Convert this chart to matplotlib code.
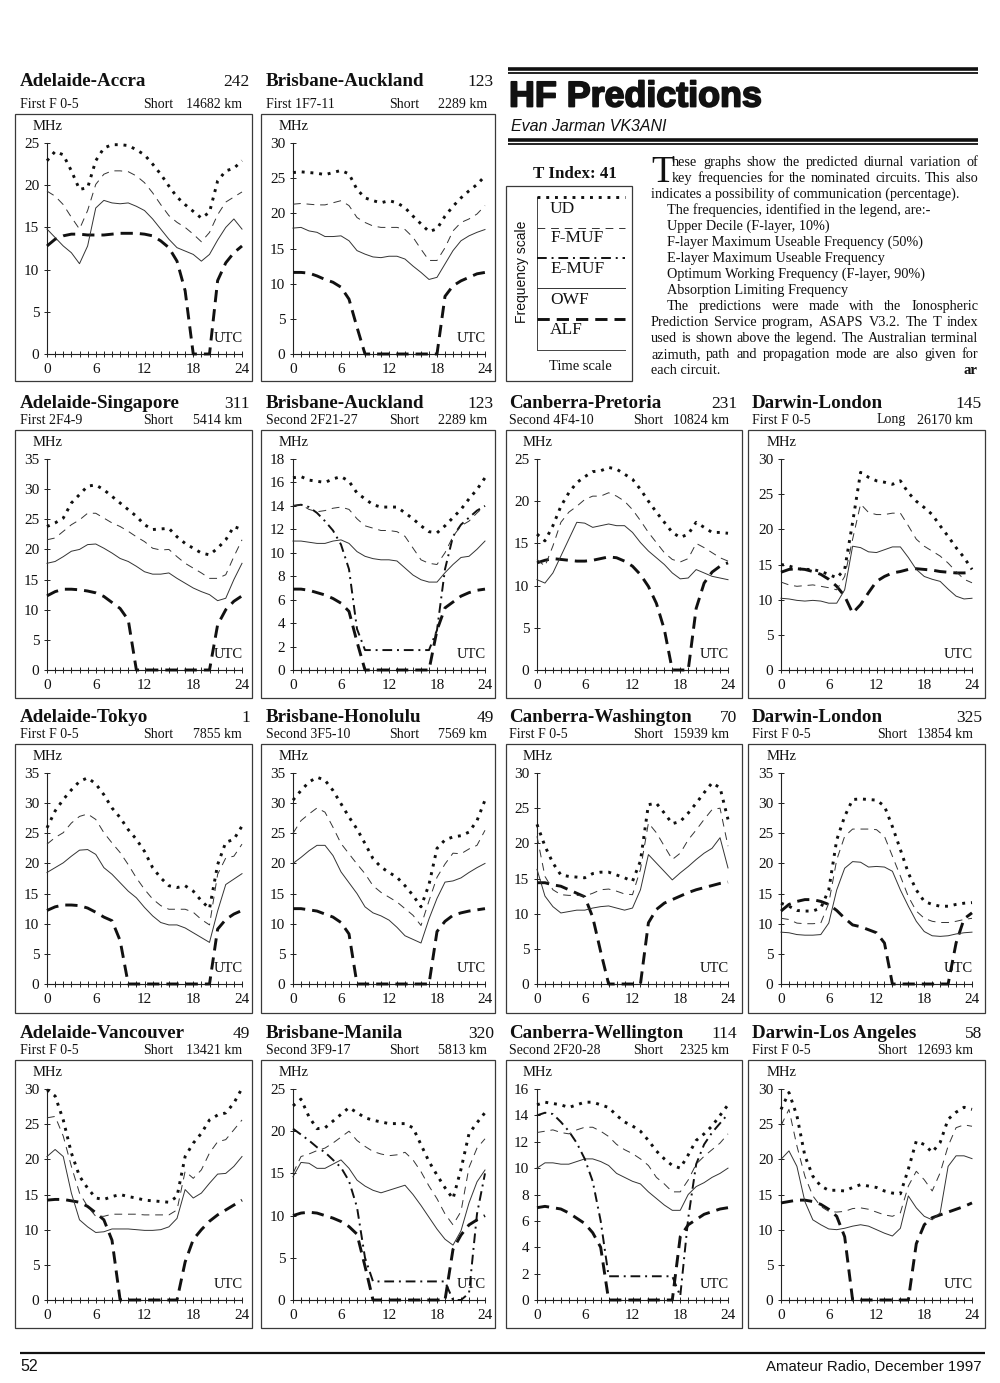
import matplotlib
matplotlib.use("Agg")
import matplotlib.pyplot as plt
import matplotlib.patheffects as pe
from matplotlib.patches import Rectangle
import numpy as np

# ---------------------------------------------------------------- data
HOURS = list(range(25))
X_TICKS = [0, 6, 12, 18, 24]

ACCRA_UD   = [22.9, 24.0, 23.6, 21.7, 19.5, 19.7, 22.9, 24.4, 24.8, 24.8, 24.7, 24.2, 23.6, 22.5, 21.3, 19.9, 18.6, 17.7, 16.9, 16.1, 16.8, 20.5, 21.7, 22.0, 22.9]
ACCRA_FMUF = [19.3, 18.7, 17.7, 16.2, 14.8, 17.0, 20.1, 21.3, 21.7, 21.7, 21.6, 21.1, 20.3, 19.1, 17.7, 16.4, 15.6, 15.0, 14.2, 13.3, 14.4, 16.5, 18.0, 18.6, 19.2]
ACCRA_OWF  = [14.8, 13.8, 12.8, 12.0, 10.7, 12.8, 17.3, 18.2, 17.9, 17.8, 17.9, 17.5, 17.0, 16.0, 14.8, 13.6, 12.6, 12.2, 11.8, 11.0, 11.8, 13.5, 15.0, 16.0, 14.8]
ACCRA_ALF  = [12.8, 13.6, 14.0, 14.2, 14.2, 14.1, 14.1, 14.1, 14.2, 14.3, 14.3, 14.3, 14.2, 14.0, 13.4, 12.6, 11.0, 7.5, 0, 0, 0, 8.7, 10.8, 12.0, 12.8]

AUCK1_UD   = [25.8, 25.9, 25.8, 25.7, 25.5, 25.8, 26.1, 25.6, 23.4, 22.2, 21.8, 21.5, 21.8, 21.5, 20.8, 19.6, 18.5, 17.4, 17.8, 19.6, 21.0, 22.2, 23.2, 24.1, 25.3]
AUCK1_FMUF = [21.3, 21.4, 21.3, 21.2, 21.2, 21.5, 21.8, 21.1, 19.4, 18.7, 18.2, 18.0, 18.0, 18.0, 17.7, 16.6, 14.9, 13.3, 13.3, 15.1, 17.5, 18.7, 19.2, 19.9, 21.1]
AUCK1_OWF  = [17.9, 18.0, 17.5, 17.3, 16.7, 16.7, 16.8, 16.1, 14.7, 14.2, 13.8, 13.7, 13.9, 13.9, 13.5, 12.5, 11.6, 10.6, 10.9, 12.8, 14.7, 16.1, 16.8, 17.3, 17.7]
AUCK1_ALF  = [11.6, 11.6, 11.5, 11.1, 10.6, 10.2, 9.5, 7.8, 3.8, 0, 0, 0, 0, 0, 0, 0, 0, 0, 0, 8.2, 9.7, 10.4, 10.9, 11.4, 11.6]

SING_UD   = [23.8, 24.4, 25.2, 27.7, 29.1, 30.5, 30.7, 29.9, 28.8, 27.7, 26.6, 25.5, 24.1, 23.3, 23.4, 23.5, 22.1, 21.0, 20.2, 19.4, 19.1, 20.2, 21.6, 23.8, 23.3]
SING_FMUF = [21.6, 21.9, 23.0, 24.1, 24.9, 26.0, 26.0, 25.2, 24.4, 23.8, 23.0, 22.1, 21.3, 20.2, 19.9, 20.0, 18.8, 17.7, 16.9, 16.1, 15.2, 15.2, 15.8, 18.8, 21.6]
SING_OWF  = [17.7, 18.0, 18.8, 19.7, 20.0, 20.8, 20.9, 20.2, 19.4, 18.5, 18.0, 17.2, 16.3, 15.9, 15.9, 16.1, 15.2, 14.4, 13.6, 13.0, 12.5, 11.5, 11.9, 15.0, 17.7]
SING_ALF  = [12.3, 13.0, 13.4, 13.4, 13.3, 13.1, 12.8, 12.2, 11.2, 10.2, 8.3, 0, 0, 0, 0, 0, 0, 0, 0, 0, 0, 7.5, 10.0, 11.4, 12.3]

AUCK2_UD   = [16.4, 16.5, 16.2, 16.1, 16.0, 16.3, 16.5, 16.1, 15.1, 14.6, 14.1, 13.9, 13.9, 13.9, 13.4, 12.9, 12.3, 11.8, 11.7, 12.3, 13.0, 13.7, 14.6, 15.4, 16.4]
AUCK2_FMUF = [14.0, 14.1, 13.7, 13.5, 13.6, 13.8, 13.9, 13.7, 12.9, 12.3, 12.1, 11.9, 11.9, 11.8, 11.4, 10.4, 9.4, 9.1, 9.0, 10.0, 11.4, 12.3, 12.7, 13.4, 14.0]
AUCK2_EMUF = [14.0, 14.1, 13.9, 13.4, 12.7, 11.9, 10.7, 8.6, 3.5, 1.7, 1.7, 1.7, 1.7, 1.7, 1.7, 1.7, 1.7, 1.7, 3.4, 8.6, 11.4, 12.4, 13.0, 13.6, 14.0]
AUCK2_OWF  = [11.0, 11.0, 10.9, 10.8, 10.8, 11.0, 11.1, 10.8, 10.1, 9.7, 9.5, 9.4, 9.4, 9.3, 8.7, 8.1, 7.7, 7.5, 7.5, 8.3, 9.0, 9.6, 9.7, 10.3, 11.0]
AUCK2_ALF  = [6.9, 6.9, 6.8, 6.6, 6.4, 6.1, 5.7, 5.0, 2.4, 0, 0, 0, 0, 0, 0, 0, 0, 0, 3.4, 5.3, 5.8, 6.3, 6.6, 6.8, 6.9]

PRET_UD   = [16.1, 15.3, 17.1, 19.4, 21.0, 22.2, 22.9, 23.5, 23.6, 24.0, 23.8, 23.2, 22.6, 21.4, 20.0, 18.7, 17.5, 16.3, 15.7, 16.1, 17.5, 16.9, 16.3, 16.3, 16.2]
PRET_FMUF = [13.1, 12.3, 14.7, 17.5, 18.7, 19.4, 20.2, 20.6, 20.6, 21.0, 20.6, 20.0, 19.0, 17.7, 16.3, 15.1, 13.9, 13.1, 12.8, 13.2, 15.0, 14.5, 13.9, 13.3, 12.9]
PRET_OWF  = [10.7, 10.3, 11.5, 13.5, 15.5, 17.5, 17.4, 16.9, 17.1, 17.3, 17.1, 17.1, 16.3, 15.1, 14.1, 13.3, 12.5, 11.5, 10.8, 10.9, 11.9, 11.5, 11.1, 10.9, 10.7]
PRET_ALF  = [12.7, 13.0, 13.2, 13.1, 13.0, 12.9, 12.9, 13.0, 13.2, 13.4, 13.3, 12.9, 12.3, 11.3, 9.9, 7.9, 4.8, 0, 0, 0, 7.3, 10.3, 11.6, 12.3, 12.7]

LONL_UD   = [15.0, 14.8, 14.4, 14.3, 14.3, 14.0, 13.6, 13.1, 14.3, 21.0, 28.1, 27.4, 26.9, 26.7, 26.4, 26.9, 25.2, 24.0, 23.1, 22.1, 20.5, 19.0, 17.4, 16.0, 14.3]
LONL_FMUF = [12.5, 12.1, 11.9, 12.0, 12.1, 11.9, 11.7, 11.4, 13.3, 18.6, 23.6, 22.4, 22.1, 22.1, 22.3, 22.3, 20.5, 18.6, 17.6, 16.9, 16.2, 15.2, 14.0, 12.9, 12.4]
LONL_OWF  = [10.2, 10.1, 9.9, 9.8, 9.9, 9.8, 9.5, 9.5, 11.4, 17.6, 17.4, 16.8, 16.7, 17.1, 17.5, 17.5, 16.0, 14.3, 13.3, 12.9, 12.6, 11.5, 10.5, 10.1, 10.2]
LONL_ALF  = [13.9, 14.3, 14.4, 14.3, 14.0, 13.6, 12.9, 11.9, 10.5, 8.1, 9.3, 11.0, 12.6, 13.3, 13.8, 14.0, 14.3, 14.4, 14.3, 14.2, 14.0, 13.9, 13.8, 13.8, 13.9]

TOKYO_UD   = [25.9, 28.7, 30.6, 32.2, 33.6, 34.2, 33.2, 31.4, 29.2, 27.6, 25.6, 24.0, 22.0, 19.3, 17.6, 16.3, 16.0, 16.3, 15.4, 13.8, 12.5, 19.8, 23.5, 24.0, 26.2]
TOKYO_FMUF = [23.2, 24.3, 25.1, 26.7, 27.8, 28.2, 27.3, 25.1, 23.4, 21.8, 19.8, 17.6, 15.7, 14.1, 13.0, 12.4, 12.4, 12.4, 11.9, 10.7, 9.8, 18.2, 20.9, 21.2, 23.2]
TOKYO_OWF  = [18.5, 19.3, 20.1, 21.2, 22.2, 22.3, 21.5, 19.3, 18.2, 16.8, 15.4, 14.3, 12.7, 11.3, 10.2, 9.8, 9.8, 9.3, 8.5, 7.7, 6.9, 12.1, 16.5, 17.4, 18.3]
TOKYO_ALF  = [12.2, 12.8, 13.1, 13.1, 13.0, 12.6, 11.9, 11.1, 10.5, 7.2, 0, 0, 0, 0, 0, 0, 0, 0, 0, 0, 0, 9.1, 10.7, 11.6, 12.2]

HONO_UD   = [30.5, 32.1, 33.5, 34.3, 33.8, 32.1, 29.9, 27.7, 25.7, 23.3, 20.8, 19.4, 18.5, 17.7, 16.3, 14.7, 12.8, 16.5, 22.5, 23.9, 24.4, 24.6, 25.2, 27.1, 30.5]
HONO_FMUF = [25.0, 27.1, 28.2, 29.2, 28.5, 26.0, 23.3, 21.6, 19.9, 18.3, 16.3, 15.2, 14.4, 13.6, 12.5, 11.4, 9.7, 13.8, 17.7, 19.9, 21.7, 21.6, 22.4, 23.0, 25.5]
HONO_OWF  = [20.0, 21.0, 22.1, 23.0, 23.0, 21.3, 18.6, 16.8, 15.0, 12.8, 11.8, 11.3, 10.6, 9.4, 8.0, 7.4, 6.8, 10.8, 14.2, 16.9, 17.1, 17.6, 18.5, 19.3, 20.0]
HONO_ALF  = [12.5, 12.5, 12.3, 12.1, 11.6, 11.1, 10.2, 8.3, 0, 0, 0, 0, 0, 0, 0, 0, 0, 0, 8.7, 10.4, 11.4, 11.8, 12.1, 12.3, 12.5]

WASH_UD   = [22.7, 19.6, 17.2, 15.5, 15.3, 15.2, 15.1, 15.7, 15.9, 15.9, 15.5, 15.1, 14.6, 17.5, 25.5, 25.7, 24.3, 22.8, 23.1, 24.3, 25.7, 27.2, 28.6, 27.9, 23.4]
WASH_FMUF = [21.0, 15.3, 13.4, 12.7, 12.6, 12.6, 12.5, 12.9, 13.4, 13.5, 13.2, 12.8, 12.7, 16.3, 22.9, 21.5, 19.6, 17.7, 18.6, 20.5, 21.9, 23.4, 24.8, 25.0, 19.6]
WASH_OWF  = [16.3, 12.5, 11.0, 10.1, 10.3, 10.5, 10.5, 10.8, 11.0, 11.1, 10.8, 10.5, 10.8, 13.4, 18.4, 17.2, 16.0, 14.8, 15.8, 16.7, 17.7, 18.6, 19.3, 20.8, 16.5]
WASH_ALF  = [14.4, 14.4, 14.1, 13.9, 13.4, 12.9, 12.4, 9.5, 4.6, 0, 0, 0, 0, 0, 8.7, 10.6, 11.5, 12.0, 12.5, 13.0, 13.4, 13.7, 14.0, 14.3, 14.5]

LONS_UD   = [13.4, 12.9, 12.2, 12.1, 12.1, 12.6, 15.6, 23.9, 27.8, 30.6, 30.7, 30.6, 30.5, 29.5, 26.1, 22.3, 18.4, 15.6, 13.7, 13.2, 12.9, 12.9, 13.2, 13.4, 13.5]
LONS_FMUF = [10.9, 10.7, 10.1, 10.0, 10.0, 10.1, 13.4, 20.6, 24.5, 25.7, 25.7, 25.7, 25.6, 24.5, 21.2, 17.9, 14.5, 12.1, 10.9, 10.4, 10.2, 10.2, 10.4, 10.7, 10.9]
LONS_OWF  = [8.6, 8.5, 8.2, 8.1, 8.1, 8.2, 10.1, 15.6, 19.2, 20.3, 20.2, 19.4, 19.5, 19.4, 18.7, 15.6, 12.9, 10.4, 8.7, 8.0, 7.9, 8.0, 8.3, 8.5, 8.6]
LONS_ALF  = [12.1, 13.2, 13.7, 14.0, 14.0, 13.7, 13.2, 12.2, 10.9, 9.8, 9.5, 9.0, 8.5, 6.8, 0, 0, 0, 0, 0, 0, 0, 0, 6.8, 10.8, 11.8]

VANC_UD   = [29.9, 29.0, 25.6, 20.9, 17.6, 15.9, 14.5, 14.3, 14.7, 15.0, 14.7, 14.5, 14.2, 14.1, 14.0, 13.9, 14.7, 20.4, 22.3, 23.7, 25.6, 26.3, 26.6, 28.0, 30.1]
VANC_FMUF = [25.9, 26.1, 23.3, 19.0, 15.2, 13.3, 11.9, 11.9, 12.2, 12.2, 12.2, 12.2, 12.1, 12.1, 12.1, 12.1, 12.8, 18.3, 17.3, 18.5, 20.9, 22.5, 22.8, 24.2, 25.6]
VANC_OWF  = [20.4, 21.4, 20.4, 15.2, 11.4, 10.4, 9.6, 9.7, 10.1, 10.1, 10.1, 10.0, 9.9, 9.9, 10.0, 10.4, 11.6, 15.7, 14.5, 15.2, 16.6, 17.9, 18.0, 19.0, 20.4]
VANC_ALF  = [14.2, 14.3, 14.3, 14.1, 13.9, 13.3, 12.4, 11.4, 8.5, 0, 0, 0, 0, 0, 0, 0, 0, 5.4, 8.6, 10.0, 11.2, 12.1, 12.8, 13.5, 14.2]

MANI_UD   = [23.0, 23.8, 21.7, 20.3, 20.4, 21.2, 22.0, 22.8, 22.2, 21.6, 21.3, 21.1, 20.9, 20.9, 20.9, 20.4, 18.4, 16.4, 14.8, 13.3, 12.0, 15.5, 19.7, 21.0, 22.2]
MANI_FMUF = [15.0, 17.0, 17.3, 17.7, 18.0, 18.6, 19.3, 20.0, 18.9, 18.2, 17.6, 17.3, 17.1, 17.2, 17.5, 16.6, 15.2, 13.5, 12.0, 10.2, 8.9, 10.5, 15.7, 18.0, 19.1]
MANI_EMUF = [20.3, 19.6, 18.9, 18.1, 17.5, 16.6, 15.7, 14.1, 11.0, 5.0, 2.2, 2.2, 2.2, 2.2, 2.2, 2.2, 2.2, 2.2, 2.2, 2.2, 0, 0, 0.8, 10.2, 15.0]
MANI_OWF  = [14.6, 16.3, 16.2, 15.6, 15.6, 16.1, 16.6, 15.6, 14.2, 13.5, 13.0, 12.7, 13.0, 13.3, 13.6, 12.5, 11.2, 9.8, 8.4, 7.2, 6.5, 8.2, 11.5, 14.0, 15.4]
MANI_ALF  = [10.0, 10.3, 10.4, 10.3, 10.0, 9.7, 9.3, 8.7, 7.8, 4.0, 0, 0, 0, 0, 0, 0, 0, 0, 0, 0, 6.0, 7.7, 8.9, 9.5, 10.0]

WELL_UD   = [14.8, 15.0, 14.9, 14.8, 14.6, 14.8, 15.0, 15.0, 14.8, 14.6, 14.0, 13.5, 13.2, 12.8, 12.1, 11.3, 10.7, 10.2, 10.0, 11.0, 12.1, 12.6, 13.2, 14.0, 14.8]
WELL_FMUF = [12.7, 12.8, 12.9, 12.7, 12.6, 12.9, 13.1, 13.1, 12.8, 12.4, 11.8, 11.4, 11.1, 10.7, 10.2, 9.3, 8.8, 8.2, 8.2, 9.1, 10.3, 10.9, 11.4, 11.9, 12.6]
WELL_EMUF = [14.0, 14.2, 14.1, 13.5, 12.8, 11.9, 10.7, 9.0, 6.0, 1.8, 1.8, 1.8, 1.8, 1.8, 1.8, 1.8, 1.8, 1.8, 0.3, 6.2, 10.3, 11.8, 12.7, 13.4, 14.1]
WELL_OWF  = [10.0, 10.4, 10.4, 10.3, 10.3, 10.5, 10.7, 10.7, 10.5, 10.2, 9.6, 9.3, 9.0, 8.8, 8.2, 7.7, 7.2, 6.8, 6.8, 8.0, 8.6, 8.9, 9.3, 9.6, 10.0]
WELL_ALF  = [7.0, 7.1, 7.0, 6.9, 6.6, 6.2, 5.8, 5.1, 4.0, 0, 0, 0, 0, 0, 0, 0, 0, 0, 4.8, 5.7, 6.1, 6.5, 6.7, 6.9, 7.0]

LA_UD   = [27.1, 29.5, 26.2, 20.5, 17.6, 16.2, 15.6, 15.6, 15.5, 16.0, 16.4, 16.2, 16.0, 15.5, 15.2, 15.1, 18.6, 22.6, 22.1, 21.0, 22.4, 25.7, 26.7, 27.4, 27.1]
LA_FMUF = [24.8, 27.1, 21.9, 17.6, 14.8, 13.3, 12.6, 12.5, 12.6, 13.0, 13.1, 12.9, 12.5, 12.1, 11.9, 12.4, 16.2, 18.3, 17.1, 15.5, 18.1, 21.9, 24.5, 24.9, 24.7]
LA_OWF  = [20.0, 21.2, 19.0, 14.0, 11.4, 10.7, 10.1, 10.0, 10.2, 10.5, 10.7, 10.5, 10.0, 9.5, 9.1, 10.2, 14.8, 13.1, 11.9, 11.4, 12.4, 19.0, 20.5, 20.5, 20.1]
LA_ALF  = [13.8, 14.0, 14.2, 14.2, 14.0, 13.6, 12.9, 11.9, 9.0, 0, 0, 0, 0, 0, 0, 0, 0, 8.0, 10.7, 11.7, 12.1, 12.5, 12.9, 13.3, 13.8]

TITLES = ["Adelaide-Accra", "Brisbane-Auckland", "Adelaide-Singapore", "Brisbane-Auckland",
          "Canberra-Pretoria", "Darwin-London", "Adelaide-Tokyo", "Brisbane-Honolulu",
          "Canberra-Washington", "Darwin-London", "Adelaide-Vancouver", "Brisbane-Manila",
          "Canberra-Wellington", "Darwin-Los Angeles"]
AZIMUTHS = ["242", "123", "311", "123", "231", "145", "1", "49", "70", "325", "49", "320", "114", "58"]
MODES = ["First F 0-5", "First 1F7-11", "First 2F4-9", "Second 2F21-27", "Second 4F4-10",
         "First F 0-5", "First F 0-5", "Second 3F5-10", "First F 0-5", "First F 0-5",
         "First F 0-5", "Second 3F9-17", "Second 2F20-28", "First F 0-5"]
PATHS = ["Short", "Short", "Short", "Short", "Short", "Long", "Short", "Short", "Short",
         "Short", "Short", "Short", "Short", "Short"]
DISTANCES = ["14682 km", "2289 km", "5414 km", "2289 km", "10824 km", "26170 km", "7855 km",
             "7569 km", "15939 km", "13854 km", "13421 km", "5813 km", "2325 km", "12693 km"]
Y_MAX = [25, 30, 35, 18, 25, 30, 35, 35, 30, 35, 30, 25, 16, 30]
Y_STEP = [5, 5, 5, 2, 5, 5, 5, 5, 5, 5, 5, 5, 2, 5]

SERIES = [
    dict(UD=ACCRA_UD, FMUF=ACCRA_FMUF, OWF=ACCRA_OWF, ALF=ACCRA_ALF),
    dict(UD=AUCK1_UD, FMUF=AUCK1_FMUF, OWF=AUCK1_OWF, ALF=AUCK1_ALF),
    dict(UD=SING_UD, FMUF=SING_FMUF, OWF=SING_OWF, ALF=SING_ALF),
    dict(UD=AUCK2_UD, FMUF=AUCK2_FMUF, EMUF=AUCK2_EMUF, OWF=AUCK2_OWF, ALF=AUCK2_ALF),
    dict(UD=PRET_UD, FMUF=PRET_FMUF, OWF=PRET_OWF, ALF=PRET_ALF),
    dict(UD=LONL_UD, FMUF=LONL_FMUF, OWF=LONL_OWF, ALF=LONL_ALF),
    dict(UD=TOKYO_UD, FMUF=TOKYO_FMUF, OWF=TOKYO_OWF, ALF=TOKYO_ALF),
    dict(UD=HONO_UD, FMUF=HONO_FMUF, OWF=HONO_OWF, ALF=HONO_ALF),
    dict(UD=WASH_UD, FMUF=WASH_FMUF, OWF=WASH_OWF, ALF=WASH_ALF),
    dict(UD=LONS_UD, FMUF=LONS_FMUF, OWF=LONS_OWF, ALF=LONS_ALF),
    dict(UD=VANC_UD, FMUF=VANC_FMUF, OWF=VANC_OWF, ALF=VANC_ALF),
    dict(UD=MANI_UD, FMUF=MANI_FMUF, EMUF=MANI_EMUF, OWF=MANI_OWF, ALF=MANI_ALF),
    dict(UD=WELL_UD, FMUF=WELL_FMUF, EMUF=WELL_EMUF, OWF=WELL_OWF, ALF=WELL_ALF),
    dict(UD=LA_UD, FMUF=LA_FMUF, OWF=LA_OWF, ALF=LA_ALF),
]

LEGEND_LABELS = ["UD", "F-MUF", "E-MUF", "OWF", "ALF"]
LEGEND_KEYS = ["UD", "FMUF", "EMUF", "OWF", "ALF"]

BODY_LINES = [
    ("hese graphs show the predicted diurnal variation of", "drop", True),
    ("key frequencies for the nominated circuits. This also", "drop", True),
    ("indicates a possibility of communication (percentage).", "left", False),
    ("The frequencies, identified in the legend, are:-", "indent", False),
    ("Upper Decile (F-layer, 10%)", "indent", False),
    ("F-layer Maximum Useable Frequency (50%)", "indent", False),
    ("E-layer Maximum Useable Frequency", "indent", False),
    ("Optimum Working Frequency (F-layer, 90%)", "indent", False),
    ("Absorption Limiting Frequency", "indent", False),
    ("The predictions were made with the Ionospheric", "indent", True),
    ("Prediction Service program, ASAPS V3.2. The T index", "left", True),
    ("used is shown above the legend. The Australian terminal", "left", True),
    ("azimuth, path and propagation mode are also given for", "left", True),
    ("each circuit.", "left", False),
]

# ---------------------------------------------------------------- style / layout
plt.rcParams["font.family"] = ["Liberation Serif", "DejaVu Serif"]
INK = "#111111"
STYLE = {
    "UD":   dict(color=INK, lw=2.1, ls=(0, (1.0, 2.0)), dash_capstyle="butt"),
    "FMUF": dict(color="#333333", lw=0.7, ls=(0, (8, 6))),
    "EMUF": dict(color=INK, lw=1.4, ls=(0, (5, 2.5, 1, 2.5))),
    "OWF":  dict(color="#333333", lw=0.7, ls="-"),
    "ALF":  dict(color=INK, lw=2.1, ls=(0, (4.2, 2.4)), dash_capstyle="butt"),
}
DRAW_ORDER = ["ALF", "OWF", "EMUF", "FMUF", "UD"]

W, H = 1000, 1383
fig = plt.figure(figsize=(W / 100, H / 100), dpi=100)
fig.patch.set_facecolor("white")
page = fig.add_axes([0, 0, 1, 1])
page.set_xlim(0, W)
page.set_ylim(H, 0)
page.axis("off")
renderer = fig.canvas.get_renderer()

BOX_L = [15, 261, 506, 748]
BOX_R = [252, 495, 742, 985]
PLOT_L = [47, 293, 537, 781]
PLOT_R = [242, 485, 728, 972]
TITLE_X = [20, 266, 509, 752]
NUM_R = [250, 494, 737, 982]
PATH_X = [143, 389, 633, 877]
DIST_R = [242, 487, 729, 973]
BOX_T = [114, 430, 744, 1060]
BOX_B = [381, 698, 1013, 1328]
TITLE_BASE = [86, 408, 722, 1038]
SUB_BASE = [107.5, 423.5, 738.5, 1054.5]
GRID = [(0, 0), (0, 1), (1, 0), (1, 1), (1, 2), (1, 3), (2, 0), (2, 1), (2, 2), (2, 3),
        (3, 0), (3, 1), (3, 2), (3, 3)]


def px_axes(l, t, r, b):
    return fig.add_axes([l / W, 1 - b / H, (r - l) / W, (b - t) / H])


def text_w(s, **kw):
    t = page.text(0, 0, s, **kw)
    w = t.get_window_extent(renderer).width
    t.remove()
    return w


for i, (row, col) in enumerate(GRID):
    bl, br, bt, bb = BOX_L[col], BOX_R[col], BOX_T[row], BOX_B[row]
    page.add_patch(Rectangle((bl, bt), br - bl, bb - bt, fill=False, lw=0.9, ec="#3a3a3a"))
    page.text(TITLE_X[col], TITLE_BASE[row], TITLES[i], fontsize=13.7, fontweight="bold",
              va="baseline", ha="left", color=INK)
    page.text(NUM_R[col], TITLE_BASE[row], AZIMUTHS[i], fontsize=12.5, va="baseline",
              ha="right", color=INK)
    page.text(TITLE_X[col], SUB_BASE[row], MODES[i], fontsize=10, va="baseline", ha="left", color=INK)
    page.text(PATH_X[col], SUB_BASE[row], PATHS[i], fontsize=10, va="baseline", ha="left", color=INK)
    page.text(DIST_R[col], SUB_BASE[row], DISTANCES[i], fontsize=10, va="baseline", ha="right",
              color=INK)

    pt, pb = bt + 29, bt + 240
    ax = px_axes(PLOT_L[col], pt, PLOT_R[col], pb)
    ax.patch.set_visible(False)
    for key in DRAW_ORDER:
        if key in SERIES[i]:
            st = STYLE[key]
            ax.plot(HOURS, SERIES[i][key], color=st["color"], lw=st["lw"], ls=st["ls"],
                    dash_capstyle=st.get("dash_capstyle", "butt"), clip_on=False, zorder=3)
    ax.set_xlim(0, 24)
    ax.set_ylim(0, Y_MAX[i])
    for s in ("top", "right"):
        ax.spines[s].set_visible(False)
    for s in ("left", "bottom"):
        ax.spines[s].set_linewidth(0.8)
        ax.spines[s].set_color("#222222")
    ax.set_xticks(X_TICKS)
    ax.set_xticks(HOURS, minor=True)
    ax.set_yticks(np.arange(0, Y_MAX[i] + 0.01, Y_STEP[i]))
    ax.tick_params(which="both", direction="inout", length=4, width=0.7, color="#222222",
                   labelsize=11, labelcolor=INK)
    ax.tick_params(axis="x", pad=4.5)
    ax.tick_params(axis="y", pad=3.5)
    page.text(PLOT_L[col] + 1, bt + 15.5, "MHz", fontsize=10.5, ha="center", va="baseline", color=INK)
    page.text(PLOT_R[col] + 1, pb - 12, "UTC", fontsize=10.5, ha="right", va="baseline", color=INK)

# ---------------------------------------------------------------- header block
for y, lw in ((68.5, 2.6), (72.5, 1.3), (139.5, 2.6), (143.5, 1.3)):
    page.plot([508, 978], [y, y], color=INK, lw=lw, solid_capstyle="butt")
page.text(509, 106.5, "HF Predictions", fontsize=25.8, fontweight="bold",
          family=["Liberation Sans", "DejaVu Sans"], va="baseline", ha="left", color=INK,
          path_effects=[pe.withStroke(linewidth=1.3, foreground=INK)])
page.text(511, 131, "Evan Jarman VK3ANI", fontsize=11.5, style="italic",
          family=["Liberation Sans", "DejaVu Sans"], va="baseline", ha="left", color=INK)

# ---------------------------------------------------------------- legend box
page.text(575, 178, "T Index: 41", fontsize=12.2, fontweight="bold", ha="center",
          va="baseline", color=INK)
page.add_patch(Rectangle((506, 186), 126, 195, fill=False, lw=0.9, ec="#3a3a3a"))
page.plot([537, 537], [197, 350], color="#444444", lw=0.7)
page.plot([537, 625], [350, 350], color="#444444", lw=0.7)
LEG_Y = [197, 228, 258, 288, 319]
LEG_TXT_Y = [213, 242, 273, 304, 334.5]
for key, lab, ly, ty in zip(LEGEND_KEYS, LEGEND_LABELS, LEG_Y, LEG_TXT_Y):
    st = STYLE[key]
    page.plot([537, 625], [ly, ly], color=st["color"], lw=st["lw"], ls=st["ls"],
              dash_capstyle=st.get("dash_capstyle", "butt"))
    page.text(550, ty, lab, fontsize=12.5, ha="left", va="baseline", color=INK)
page.text(522, 272, "Frequency scale", fontsize=10, rotation=90, ha="center", va="center",
          family=["Liberation Sans", "DejaVu Sans"], color=INK)
page.text(580, 370, "Time scale", fontsize=10.5, ha="center", va="baseline", color=INK)

# ---------------------------------------------------------------- body text
X_LEFT, X_DROP, X_INDENT, X_RIGHT = 651, 672, 667, 978
# fit the body type so that the third (unjustified) line spans its measured width
_probe = text_w(BODY_LINES[2][0], fontsize=10)
BODY_FS = 10 * (959 - X_LEFT) / _probe

page.text(651, 181.5, "T", fontsize=27, ha="left", va="baseline", color=INK)
for k, (line, kind, just) in enumerate(BODY_LINES):
    y = 166 + 16 * k
    x0 = {"drop": X_DROP, "left": X_LEFT, "indent": X_INDENT}[kind]
    if just:
        words = line.split()
        widths = [text_w(w, fontsize=BODY_FS) for w in words]
        gap = (X_RIGHT - x0 - sum(widths)) / (len(words) - 1)
        x = x0
        for w, wd in zip(words, widths):
            page.text(x, y, w, fontsize=BODY_FS, ha="left", va="baseline", color=INK)
            x += wd + gap
    else:
        page.text(x0, y, line, fontsize=BODY_FS, ha="left", va="baseline", color=INK)
page.text(X_RIGHT, 166 + 16 * 13, "ar", fontsize=BODY_FS + 0.5, fontweight="bold", ha="right",
          va="baseline", color=INK)

# ---------------------------------------------------------------- footer
page.plot([20, 985], [1353, 1353], color=INK, lw=1.6, solid_capstyle="butt")
page.text(20, 1371, "52", fontsize=11.5, family=["Liberation Sans Narrow", "Liberation Sans"],
          ha="left", va="baseline", color=INK)
page.text(982, 1371, "Amateur Radio, December 1997", fontsize=10.8,
          family=["Liberation Sans Narrow", "Liberation Sans"], ha="right", va="baseline", color=INK)

fig.savefig("out.png", dpi=100, facecolor="white")
